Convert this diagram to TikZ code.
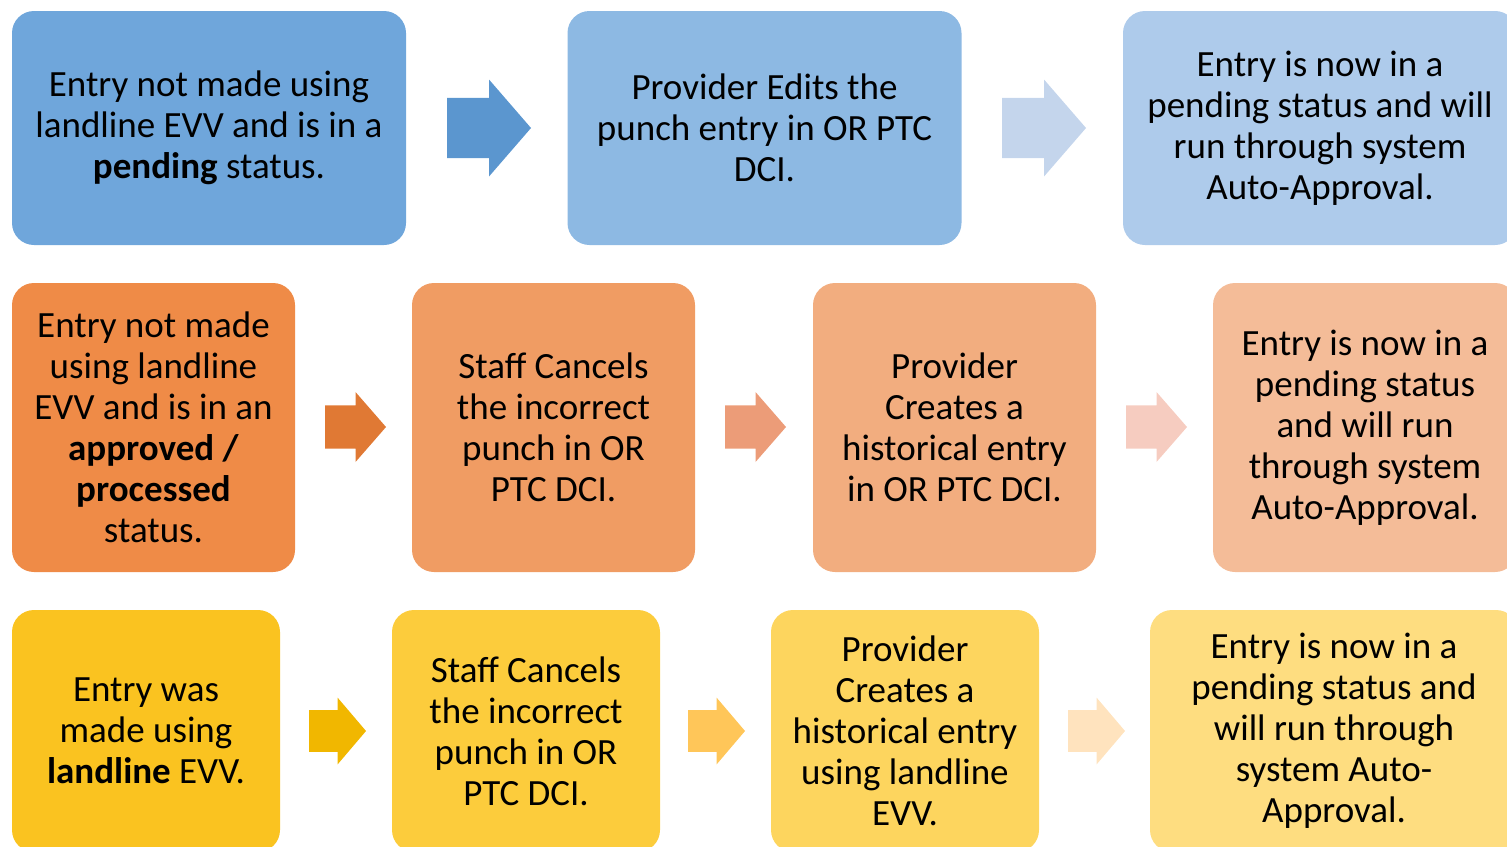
\documentclass[tikz,border=0pt]{standalone}
\usepackage{fontspec}
\setmainfont{Carlito}
\usetikzlibrary{calc}

%% box colours, light to dark per row
\definecolor{boxA1}{HTML}{6FA6DB}
\definecolor{boxA2}{HTML}{8DB9E3}
\definecolor{boxA3}{HTML}{AECBEB}
\definecolor{arrA1}{HTML}{5B96CF}
\definecolor{arrA2}{HTML}{C4D5EC}
\definecolor{boxB1}{HTML}{EF8B47}
\definecolor{boxB2}{HTML}{F09C63}
\definecolor{boxB3}{HTML}{F2AD7F}
\definecolor{boxB4}{HTML}{F4BC98}
\definecolor{arrB1}{HTML}{E07934}
\definecolor{arrB2}{HTML}{EC9C78}
\definecolor{arrB3}{HTML}{F6CCC0}
\definecolor{boxC1}{HTML}{FAC320}
\definecolor{boxC2}{HTML}{FCCC3C}
\definecolor{boxC3}{HTML}{FDD55E}
\definecolor{boxC4}{HTML}{FEDD80}
\definecolor{arrC1}{HTML}{F1B700}
\definecolor{arrC2}{HTML}{FFC659}
\definecolor{arrC3}{HTML}{FFE3BE}

\begin{document}
\begin{tikzpicture}
[x=0.5pt,y=-0.5pt,%
  stepDecorate/.style={shape=rectangle,rounded corners=11pt,inner sep=0pt,align=center,%
    font=\fontsize{18.5}{20.5}\selectfont}]
\useasboundingbox (0,0) rectangle (1507,846);
\clip (0,0) rectangle (1507,846);
%% boxes
\foreach \nodename/\x/\y/\w/\h/\col/\txt in {
  %% blue row
  A1/209/128/197/117/boxA1/{Entry not made using\\landline EVV and is in a\\\textbf{pending} status.},
  A2/764.5/128/197/117/boxA2/{Provider Edits the\\punch entry in OR PTC\\DCI.},
  A3/1320/128/197/117/boxA3/{Entry is now in a\\pending status and will\\run through system\\Auto-Approval.},
  %% orange row
  B1/153.5/427.5/141.5/144.5/boxB1/{Entry not made\\using landline\\EVV and is in an\\\textbf{approved /}\\\textbf{processed}\\status.},
  B2/553.5/427.5/141.5/144.5/boxB2/{Staff Cancels\\the incorrect\\punch in OR\\PTC DCI.},
  B3/954.5/427.5/141.5/144.5/boxB3/{Provider\\Creates a\\historical entry\\in OR PTC DCI.},
  B4/1365/427.5/152/144.5/boxB4/{Entry is now in a\\pending status\\and will run\\through system\\Auto-Approval.},
  %% yellow row
  C1/146/731/134/121/boxC1/{Entry was\\made using\\\textbf{landline} EVV.},
  C2/526/731/134/121/boxC2/{Staff Cancels\\the incorrect\\punch in OR\\PTC DCI.},
  C3/905/731/134/121/boxC3/{Provider\\Creates a\\historical entry\\using landline\\EVV.},
  C4/1334/731/184/121/boxC4/{Entry is now in a\\pending status and\\will run through\\system Auto-\\Approval.}}
{
  \node (\nodename) at (\x,\y) [stepDecorate,fill=\col,minimum width=\w pt,minimum height=\h pt] {\txt};
}
%% block arrows
\foreach \x/\y/\l/\h/\col in {
  447/128/84/97/arrA1, 1002/128/84/97/arrA2,
  325/427/61/70/arrB1, 725/427/61/70/arrB2, 1126/427/61/70/arrB3,
  309/731/57/67/arrC1, 688/731/57/67/arrC2, 1068/731/57/67/arrC3}
{
  \fill[\col] ({\x},{\y-0.31*\h}) -- ({\x+0.5*\l},{\y-0.31*\h}) -- ({\x+0.5*\l},{\y-0.5*\h})
    -- ({\x+\l},{\y}) -- ({\x+0.5*\l},{\y+0.5*\h}) -- ({\x+0.5*\l},{\y+0.31*\h})
    -- ({\x},{\y+0.31*\h}) -- cycle;
}
\end{tikzpicture}
\end{document}
